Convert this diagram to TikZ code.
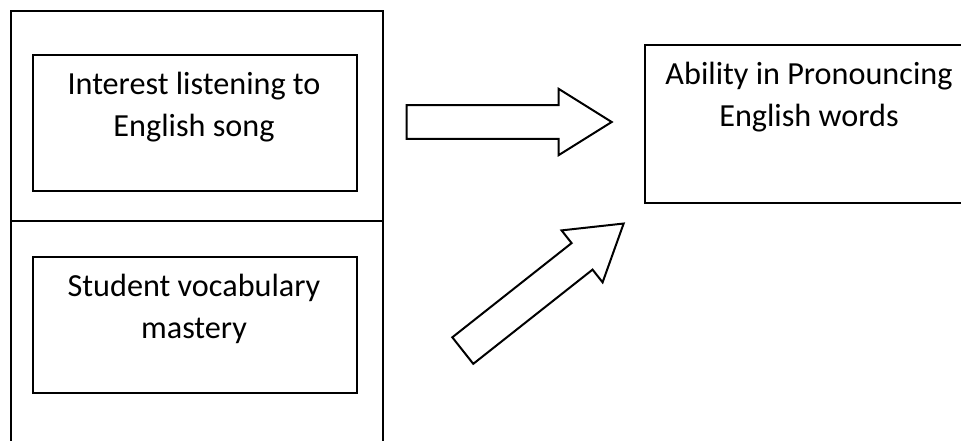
\documentclass[tikz,border=0pt]{standalone}
\usepackage{fontspec}
\setmainfont{Carlito}
\usetikzlibrary{shapes.arrows}
\begin{document}
\begin{tikzpicture}[x=1pt,y=-1pt,
  panel/.style={draw,line width=2pt,minimum width=372pt,inner sep=0,anchor=north west},
  box/.style={draw,line width=2pt,inner sep=0,anchor=north west},
  words/.style={align=center,font=\fontsize{32.2}{42}\selectfont,inner sep=0,anchor=base},
  fat/.style={single arrow,draw,line width=2pt,inner xsep=0,inner ysep=15.9pt,minimum height=205pt,
    single arrow head extend=16.2pt,single arrow head indent=0pt,single arrow tip angle=64,anchor=tail}]
  \useasboundingbox (0,0) rectangle (961,441);
  \clip (0,0) rectangle (961,441);
  \node[panel,minimum height=210pt] (upper) at (10,10){};
  \node[panel,minimum height=260pt] (lower) at (10,220){};
  \node[box,minimum width=324pt,minimum height=136pt] (song) at (32,54){};
  \node[box,minimum width=324pt,minimum height=136pt] (vocab) at (32,256){};
  \node[box,minimum width=331pt,minimum height=158pt] (ability) at (644,44){};
  \node[words] (songtext) at (194,137){Interest listening to\\English song};
  \node[words] (vocabtext) at (194,338){Student vocabulary\\mastery};
  \node[words] (abilitytext) at (809,127){Ability in Pronouncing\\English words};
  \node[fat] (toability) at (405.7,122){};
  \node[fat,rotate=38.3] (upability) at (462,351.2){};
\end{tikzpicture}
\end{document}
